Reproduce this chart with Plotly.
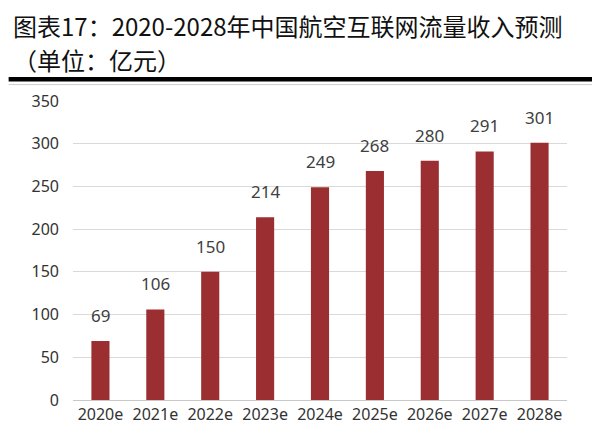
import plotly.graph_objects as go

categories = ["2020e", "2021e", "2022e", "2023e", "2024e", "2025e", "2026e", "2027e", "2028e"]
revenue = [69, 106, 150, 214, 249, 268, 280, 291, 301]
y_ticks = [0, 50, 100, 150, 200, 250, 300, 350]
title_line1 = "图表17：2020-2028年中国航空互联网流量收入预测"
title_line2 = "（单位：亿元）"

BAR = "#9B2E31"
W, H = 600, 429
L, R, T, B = 64.5, 40.5, 93, 27
pw, ph = W - L - R, H - T - B

def px(x):
    return (x - L) / pw

def py(y):
    return (H - B - y) / ph

fig = go.Figure()
fig.add_trace(go.Bar(
    x=categories, y=revenue, marker=dict(color=BAR, line=dict(width=0)),
    width=0.33, hoverinfo="x+y",
))

annotations = []
for c, v in zip(categories, revenue):
    annotations.append(dict(
        x=c, y=v, xref="x", yref="y", text=str(v), showarrow=False,
        yanchor="bottom", yshift=12,
        font=dict(family="Noto Sans, Arial", size=17, color="#404040"),
    ))
annotations.append(dict(
    x=px(2), y=py(15), xref="paper", yref="paper", text=title_line1,
    showarrow=False, xanchor="left", yanchor="middle",
    font=dict(family="Noto Sans CJK SC", size=24, color="#111111"),
))
annotations.append(dict(
    x=px(2), y=py(50), xref="paper", yref="paper", text=title_line2,
    showarrow=False, xanchor="left", yanchor="middle",
    font=dict(family="Noto Sans CJK SC", size=24, color="#111111"),
))

shapes = [
    dict(type="line", xref="paper", yref="paper", x0=px(0), x1=px(597),
         y0=py(70.5), y1=py(70.5), line=dict(color="#000000", width=4.5)),
    dict(type="line", xref="paper", yref="paper", x0=px(0), x1=px(597),
         y0=py(76), y1=py(76), line=dict(color="#cfcfcf", width=1)),
    dict(type="line", xref="paper", yref="paper", x0=px(597), x1=px(597),
         y0=py(0), y1=py(429), line=dict(color="#bdbdbd", width=1.5)),
]

fig.update_layout(
    width=W, height=H,
    margin=dict(l=L, r=R, t=T, b=B, pad=0),
    paper_bgcolor="white", plot_bgcolor="white",
    showlegend=False,
    annotations=annotations, shapes=shapes,
    bargap=0.67,
    font=dict(family="Noto Sans, Arial", size=16, color="#333333"),
)
fig.update_xaxes(
    type="category", showgrid=False, showline=True, linecolor="#c8c8c8", linewidth=1,
    ticks="", tickfont=dict(size=16, color="#333333"), range=[-0.5, 8.5],
)
fig.update_yaxes(
    range=[0, 350], tickvals=y_ticks, showgrid=True, gridcolor="#d9d9d9", gridwidth=1,
    zeroline=False, showline=False, ticks="", ticklabelstandoff=13,
    tickfont=dict(size=16, color="#333333"),
)

fig.write_html("out.html")
